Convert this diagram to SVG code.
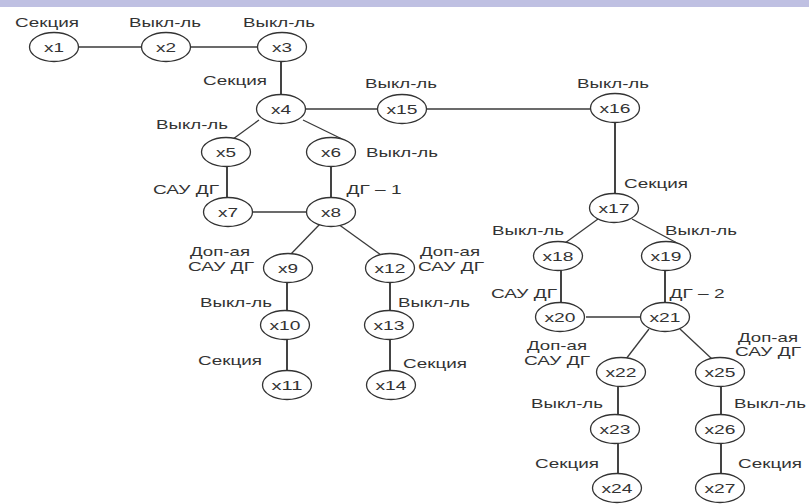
<svg xmlns="http://www.w3.org/2000/svg" width="809" height="504" viewBox="0 0 809 504">
  <style>
    .node ellipse { fill: #ffffff; stroke: #333333; stroke-width: 1.3; }
    .node text { font-family: "Liberation Sans", Arial, sans-serif; font-size: 13px; fill: #333333; text-anchor: middle; }
    .lbl { font-family: "Liberation Sans", Arial, sans-serif; font-size: 13px; fill: #333333; text-anchor: middle; }
    #edges line { stroke: #3a3a3a; stroke-width: 1.3; }
    #edges line.v { stroke-width: 1.9; }
  </style>

  <rect x="0" y="0" width="809" height="7" fill="#bfc0e2"/>

  <g id="edges">
    <line x1="79" y1="47" x2="141" y2="47"/>
    <line x1="191" y1="47" x2="257" y2="47"/>
    <line class="v" x1="281" y1="60" x2="281" y2="96"/>
    <line x1="306" y1="109" x2="377" y2="109"/>
    <line x1="427" y1="109" x2="590" y2="109"/>
    <line class="v" x1="615" y1="121" x2="615" y2="195"/>
    <line x1="259" y1="120" x2="233" y2="139"/>
    <line x1="303" y1="120" x2="342" y2="139"/>
    <line class="v" x1="227" y1="165" x2="227" y2="199"/>
    <line class="v" x1="331" y1="165" x2="331" y2="199"/>
    <line x1="253" y1="212" x2="306" y2="212"/>
    <line x1="320" y1="224" x2="290" y2="255"/>
    <line x1="338" y1="224" x2="381" y2="255"/>
    <line class="v" x1="287" y1="281" x2="287" y2="312"/>
    <line class="v" x1="287" y1="338" x2="287" y2="372"/>
    <line class="v" x1="390" y1="281" x2="390" y2="312"/>
    <line class="v" x1="390" y1="338" x2="390" y2="372"/>
    <line x1="598" y1="219" x2="565" y2="243"/>
    <line x1="632" y1="219" x2="677" y2="243"/>
    <line class="v" x1="561" y1="269" x2="561" y2="304"/>
    <line class="v" x1="665" y1="269" x2="665" y2="304"/>
    <line x1="586" y1="317" x2="640" y2="317"/>
    <line x1="649" y1="329" x2="626" y2="359"/>
    <line x1="680" y1="329" x2="712" y2="359"/>
    <line class="v" x1="618" y1="385" x2="618" y2="416"/>
    <line class="v" x1="618" y1="442" x2="618" y2="476"/>
    <line class="v" x1="721" y1="385" x2="721" y2="416"/>
    <line class="v" x1="721" y1="442" x2="721" y2="476"/>
  </g>

  <g id="x1" class="node"><ellipse cx="54" cy="47" rx="24.5" ry="14.5"/><text x="54" y="52" textLength="20" lengthAdjust="spacingAndGlyphs">x1</text></g>
  <g id="x2" class="node"><ellipse cx="166" cy="47" rx="24.5" ry="14.5"/><text x="166" y="52" textLength="20" lengthAdjust="spacingAndGlyphs">x2</text></g>
  <g id="x3" class="node"><ellipse cx="282" cy="47" rx="24.5" ry="14.5"/><text x="282" y="52" textLength="20" lengthAdjust="spacingAndGlyphs">x3</text></g>
  <g id="x4" class="node"><ellipse cx="281" cy="109" rx="24.5" ry="14.5"/><text x="281" y="114" textLength="20" lengthAdjust="spacingAndGlyphs">x4</text></g>
  <g id="x15" class="node"><ellipse cx="402" cy="109" rx="24.5" ry="14.5"/><text x="402" y="114" textLength="31" lengthAdjust="spacingAndGlyphs">x15</text></g>
  <g id="x16" class="node"><ellipse cx="615" cy="108" rx="24.5" ry="14.5"/><text x="615" y="113" textLength="31" lengthAdjust="spacingAndGlyphs">x16</text></g>
  <g id="x5" class="node"><ellipse cx="226" cy="152" rx="24.5" ry="14.5"/><text x="226" y="157" textLength="20" lengthAdjust="spacingAndGlyphs">x5</text></g>
  <g id="x6" class="node"><ellipse cx="331" cy="152" rx="24.5" ry="14.5"/><text x="331" y="157" textLength="20" lengthAdjust="spacingAndGlyphs">x6</text></g>
  <g id="x7" class="node"><ellipse cx="228" cy="212" rx="24.5" ry="14.5"/><text x="228" y="217" textLength="20" lengthAdjust="spacingAndGlyphs">x7</text></g>
  <g id="x8" class="node"><ellipse cx="331" cy="212" rx="24.5" ry="14.5"/><text x="331" y="217" textLength="20" lengthAdjust="spacingAndGlyphs">x8</text></g>
  <g id="x9" class="node"><ellipse cx="288" cy="268" rx="24.5" ry="14.5"/><text x="288" y="273" textLength="20" lengthAdjust="spacingAndGlyphs">x9</text></g>
  <g id="x12" class="node"><ellipse cx="390" cy="268" rx="24.5" ry="14.5"/><text x="390" y="273" textLength="31" lengthAdjust="spacingAndGlyphs">x12</text></g>
  <g id="x10" class="node"><ellipse cx="285" cy="325" rx="24.5" ry="14.5"/><text x="285" y="330" textLength="31" lengthAdjust="spacingAndGlyphs">x10</text></g>
  <g id="x13" class="node"><ellipse cx="389" cy="325" rx="24.5" ry="14.5"/><text x="389" y="330" textLength="31" lengthAdjust="spacingAndGlyphs">x13</text></g>
  <g id="x11" class="node"><ellipse cx="287" cy="385" rx="24.5" ry="14.5"/><text x="287" y="390" textLength="31" lengthAdjust="spacingAndGlyphs">x11</text></g>
  <g id="x14" class="node"><ellipse cx="391" cy="385" rx="24.5" ry="14.5"/><text x="391" y="390" textLength="31" lengthAdjust="spacingAndGlyphs">x14</text></g>
  <g id="x17" class="node"><ellipse cx="614" cy="208" rx="24.5" ry="14.5"/><text x="614" y="213" textLength="31" lengthAdjust="spacingAndGlyphs">x17</text></g>
  <g id="x18" class="node"><ellipse cx="558" cy="256" rx="24.5" ry="14.5"/><text x="558" y="261" textLength="31" lengthAdjust="spacingAndGlyphs">x18</text></g>
  <g id="x19" class="node"><ellipse cx="666" cy="256" rx="24.5" ry="14.5"/><text x="666" y="261" textLength="31" lengthAdjust="spacingAndGlyphs">x19</text></g>
  <g id="x20" class="node"><ellipse cx="560" cy="317" rx="24.5" ry="14.5"/><text x="560" y="322" textLength="31" lengthAdjust="spacingAndGlyphs">x20</text></g>
  <g id="x21" class="node"><ellipse cx="665" cy="317" rx="24.5" ry="14.5"/><text x="665" y="322" textLength="31" lengthAdjust="spacingAndGlyphs">x21</text></g>
  <g id="x22" class="node"><ellipse cx="621" cy="372" rx="24.5" ry="14.5"/><text x="621" y="377" textLength="31" lengthAdjust="spacingAndGlyphs">x22</text></g>
  <g id="x25" class="node"><ellipse cx="720" cy="372" rx="24.5" ry="14.5"/><text x="720" y="377" textLength="31" lengthAdjust="spacingAndGlyphs">x25</text></g>
  <g id="x23" class="node"><ellipse cx="615" cy="429" rx="24.5" ry="14.5"/><text x="615" y="434" textLength="31" lengthAdjust="spacingAndGlyphs">x23</text></g>
  <g id="x26" class="node"><ellipse cx="720" cy="429" rx="24.5" ry="14.5"/><text x="720" y="434" textLength="31" lengthAdjust="spacingAndGlyphs">x26</text></g>
  <g id="x24" class="node"><ellipse cx="617" cy="488" rx="24.5" ry="14.5"/><text x="617" y="493" textLength="31" lengthAdjust="spacingAndGlyphs">x24</text></g>
  <g id="x27" class="node"><ellipse cx="720" cy="488" rx="24.5" ry="14.5"/><text x="720" y="493" textLength="31" lengthAdjust="spacingAndGlyphs">x27</text></g>

  <g id="labels">
    <text class="lbl" x="47" y="27" textLength="64" lengthAdjust="spacingAndGlyphs">Секция</text>
    <text class="lbl" x="165" y="27" textLength="72" lengthAdjust="spacingAndGlyphs">Выкл-ль</text>
    <text class="lbl" x="279" y="27" textLength="72" lengthAdjust="spacingAndGlyphs">Выкл-ль</text>
    <text class="lbl" x="235" y="85" textLength="64" lengthAdjust="spacingAndGlyphs">Секция</text>
    <text class="lbl" x="401" y="88" textLength="72" lengthAdjust="spacingAndGlyphs">Выкл-ль</text>
    <text class="lbl" x="613" y="88" textLength="72" lengthAdjust="spacingAndGlyphs">Выкл-ль</text>
    <text class="lbl" x="192" y="129" textLength="72" lengthAdjust="spacingAndGlyphs">Выкл-ль</text>
    <text class="lbl" x="402" y="157" textLength="72" lengthAdjust="spacingAndGlyphs">Выкл-ль</text>
    <text class="lbl" x="186" y="194" textLength="66" lengthAdjust="spacingAndGlyphs">САУ ДГ</text>
    <text class="lbl" x="374" y="194" textLength="55" lengthAdjust="spacingAndGlyphs">ДГ – 1</text>
    <text class="lbl" x="220" y="256" textLength="60" lengthAdjust="spacingAndGlyphs">Доп-ая</text>
    <text class="lbl" x="221" y="271" textLength="66" lengthAdjust="spacingAndGlyphs">САУ ДГ</text>
    <text class="lbl" x="450" y="256" textLength="60" lengthAdjust="spacingAndGlyphs">Доп-ая</text>
    <text class="lbl" x="451" y="271" textLength="66" lengthAdjust="spacingAndGlyphs">САУ ДГ</text>
    <text class="lbl" x="236" y="307" textLength="72" lengthAdjust="spacingAndGlyphs">Выкл-ль</text>
    <text class="lbl" x="434" y="307" textLength="72" lengthAdjust="spacingAndGlyphs">Выкл-ль</text>
    <text class="lbl" x="230" y="365" textLength="64" lengthAdjust="spacingAndGlyphs">Секция</text>
    <text class="lbl" x="435" y="368" textLength="64" lengthAdjust="spacingAndGlyphs">Секция</text>
    <text class="lbl" x="656" y="188" textLength="64" lengthAdjust="spacingAndGlyphs">Секция</text>
    <text class="lbl" x="528" y="235" textLength="72" lengthAdjust="spacingAndGlyphs">Выкл-ль</text>
    <text class="lbl" x="701" y="235" textLength="72" lengthAdjust="spacingAndGlyphs">Выкл-ль</text>
    <text class="lbl" x="524" y="298" textLength="66" lengthAdjust="spacingAndGlyphs">САУ ДГ</text>
    <text class="lbl" x="697" y="298" textLength="55" lengthAdjust="spacingAndGlyphs">ДГ – 2</text>
    <text class="lbl" x="557" y="350" textLength="60" lengthAdjust="spacingAndGlyphs">Доп-ая</text>
    <text class="lbl" x="557" y="365" textLength="66" lengthAdjust="spacingAndGlyphs">САУ ДГ</text>
    <text class="lbl" x="768" y="342" textLength="60" lengthAdjust="spacingAndGlyphs">Доп-ая</text>
    <text class="lbl" x="768" y="356" textLength="66" lengthAdjust="spacingAndGlyphs">САУ ДГ</text>
    <text class="lbl" x="567" y="408" textLength="72" lengthAdjust="spacingAndGlyphs">Выкл-ль</text>
    <text class="lbl" x="770" y="408" textLength="72" lengthAdjust="spacingAndGlyphs">Выкл-ль</text>
    <text class="lbl" x="567" y="468" textLength="64" lengthAdjust="spacingAndGlyphs">Секция</text>
    <text class="lbl" x="770" y="468" textLength="64" lengthAdjust="spacingAndGlyphs">Секция</text>
  </g>
</svg>
